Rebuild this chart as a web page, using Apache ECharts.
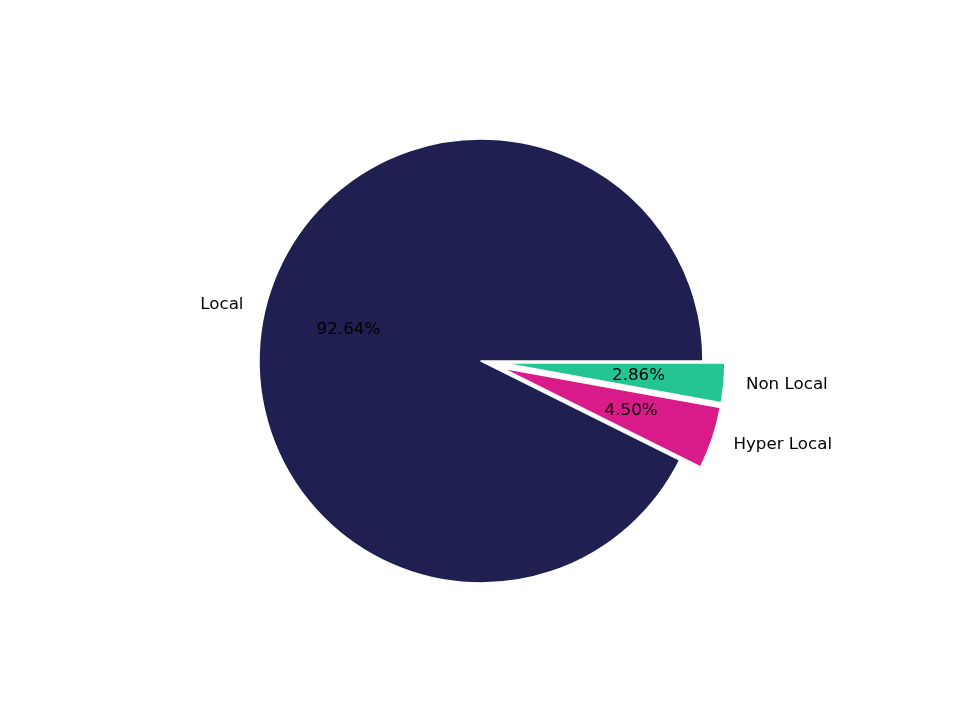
<!DOCTYPE html>
<html>
<head>
<meta charset="utf-8">
<script src="https://cdn.jsdelivr.net/npm/echarts@6/dist/echarts.min.js"></script>
<style>
  html, body { margin: 0; padding: 0; background: #fff; }
  #chart { width: 960px; height: 720px; }
</style>
</head>
<body>
<div id="chart"></div>
<script>
// slices, clockwise from 3 o'clock
const categories = ['Non Local', 'Hyper Local', 'Local'];
const shares = [2.86, 4.50, 92.64];
const exploded = [true, true, false];
const colors = ['#25c493', '#d81b88', '#1f1f52'];

const R = 222;
const center = [481, 361];
const textStyle = { fontFamily: 'DejaVu Sans', fontSize: 16.7, color: '#000' };

const chart = echarts.init(document.getElementById('chart'));

chart.setOption({
    animation: false,
    series: [
        {
            // slices + outer names
            type: 'pie',
            center: center,
            radius: [0, R],
            startAngle: 0,
            clockwise: true,
            avoidLabelOverlap: false,
            selectedMode: 'multiple',
            selectedOffset: 22,
            emphasis: { disabled: true },
            itemStyle: { borderColor: '#fff', borderWidth: 1.5 },
            label: Object.assign({
                position: 'outside', formatter: '{b}', distanceToLabelLine: 0
            }, textStyle),
            labelLine: { show: false, length: 22, length2: 0 },
            data: categories.map((c, i) => ({
                name: c, value: shares[i], selected: exploded[i],
                itemStyle: { color: colors[i] }
            }))
        },
        {
            // invisible ring only used to put the percent text at 0.6 R
            type: 'pie',
            center: center,
            radius: [0, R * 1.2],
            startAngle: 0,
            clockwise: true,
            silent: true,
            avoidLabelOverlap: false,
            selectedMode: 'multiple',
            selectedOffset: 22,
            itemStyle: { color: 'rgba(0,0,0,0)', borderWidth: 0 },
            label: Object.assign({
                position: 'inside',
                formatter: p => p.value.toFixed(2) + '%'
            }, textStyle),
            labelLine: { show: false },
            data: categories.map((c, i) => ({
                name: c, value: shares[i], selected: exploded[i]
            }))
        }
    ]
});
</script>
</body>
</html>
